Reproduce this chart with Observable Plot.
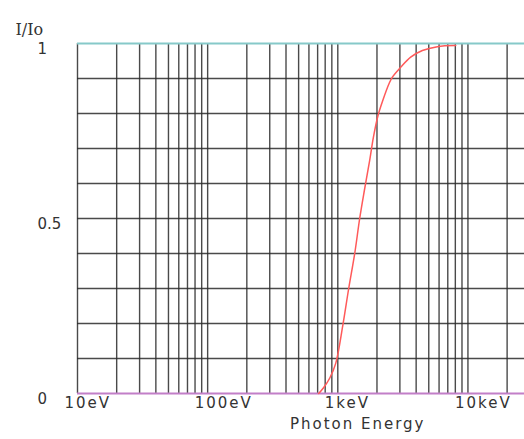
<!DOCTYPE html>
<html>
<head>
<meta charset="utf-8">
<script src="https://cdn.jsdelivr.net/npm/d3@7"></script>
<script src="https://cdn.jsdelivr.net/npm/@observablehq/plot@0.6"></script>
<style>
  html, body { margin: 0; padding: 0; background: #fff; }
</style>
</head>
<body>
<div id="chart"></div>
<script>
// Curve: transmission I/Io vs photon energy (eV)
const energy = [713, 780, 870, 964, 1092, 1213, 1349, 1473, 1600, 1758, 1877, 2040, 2230, 2474, 2627, 3041, 3631, 4464, 5821, 8054];
const ratio  = [0, 0.017, 0.045, 0.086, 0.194, 0.30, 0.40, 0.50, 0.58, 0.666, 0.732, 0.795, 0.840, 0.885, 0.904, 0.932, 0.961, 0.98, 0.991, 0.994];

// Axis ticks
const xTickValues = [10, 100, 1000, 10000];
const xTickLabels = ["10eV", "100eV", "1keV", "10keV"];
const yTickValues = [0, 0.5, 1];
const yTickLabels = ["0", "0.5", "1"];
const yGrid = [0.1, 0.2, 0.3, 0.4, 0.5, 0.6, 0.7, 0.8, 0.9];
const xGrid = [];
for (const p of [10, 100, 1000, 10000]) for (let m = 1; m <= 9; m++) { if (p * m <= 27200) xGrid.push(p * m); }

const curve = energy.map((e, i) => ({e, r: ratio[i]}));
const xTicks = xTickValues.map((v, i) => ({v, t: xTickLabels[i]}));
const yTicks = yTickValues.map((v, i) => ({v, t: yTickLabels[i]}));

const font = "DejaVu Sans, sans-serif";

const chart = Plot.plot({
  width: 524,
  height: 439,
  marginLeft: 77,
  marginRight: 0,
  marginTop: 43,
  marginBottom: 46,
  x: {type: "log", domain: [10, 27200], axis: null},
  y: {domain: [0, 1], axis: null},
  style: {fontFamily: font, background: "#fff"},
  marks: [
    Plot.ruleX(xGrid, {stroke: "#2a2a2a", strokeWidth: 1.4, strokeOpacity: 0.85}),
    Plot.ruleY(yGrid, {stroke: "#2a2a2a", strokeWidth: 1.4, strokeOpacity: 0.85}),
    Plot.ruleY([1], {stroke: "#86c9c9", strokeWidth: 2}),
    Plot.ruleY([0], {stroke: "#c27fc8", strokeWidth: 2}),
    Plot.line(curve, {x: "e", y: "r", stroke: "#ff5a5a", strokeWidth: 1.5, curve: "catmull-rom"}),
    Plot.text(xTicks, {x: "v", text: "t", frameAnchor: "bottom", dy: 14, dx: -13, textAnchor: "start", fontSize: 15, fill: "#333"}),
    Plot.text(yTicks, {y: "v", text: "t", frameAnchor: "left", dx: -40, dy: 6, textAnchor: "start", fontSize: 15, fill: "#333"}),
    Plot.text(["Photon Energy"], {x: [1422], frameAnchor: "bottom", dy: 35, textAnchor: "middle", fontSize: 15, fill: "#333"}),
    Plot.text(["I/Io"], {frameAnchor: "top-left", dx: -62, dy: -20, textAnchor: "start", fontSize: 16, fill: "#333", fontFamily: "DejaVu Serif, serif"})
  ]
});
chart.querySelectorAll("text").forEach(t => { if (t.textContent.match(/eV|Photon/)) t.style.letterSpacing = "2px"; });
document.getElementById("chart").appendChild(chart);
</script>
</body>
</html>
